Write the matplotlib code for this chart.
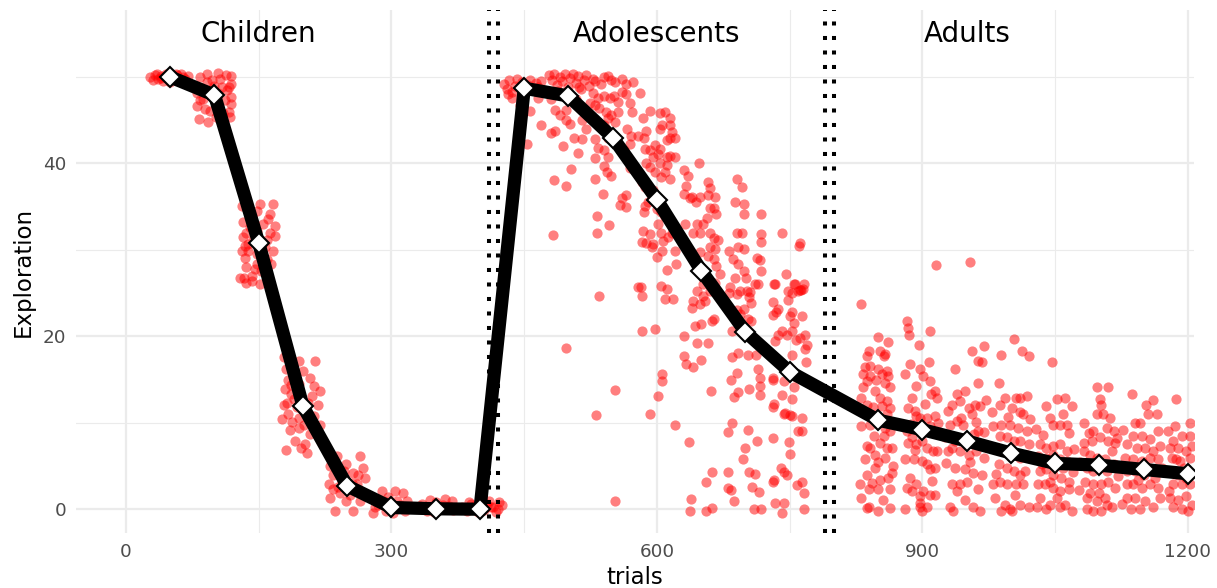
import matplotlib as mpl
mpl.use('Agg')
import matplotlib.pyplot as plt
import numpy as np

mpl.rcParams.update({
    'font.family': 'DejaVu Sans',
    'axes.linewidth': 0.0,
    'xtick.major.size': 0,
    'ytick.major.size': 0,
    'xtick.minor.size': 0,
    'ytick.minor.size': 0,
})

# per-trial exploration scores (trial, score)
children_pts = [
    (27, 50.0), (30, 49.6), (33, 50.2), (36, 49.8), (39, 50.1), (42, 49.5), (45, 50.3), (48, 49.9),
    (52, 50.0), (55, 49.7), (58, 50.2), (61, 49.6), (64, 50.0), (67, 49.8), (70, 50.1), (40, 49.9),
    (57, 50.4), (35, 50.3), (62, 50.4), (50, 49.4), (44, 50.0), (53, 50.2),
    (91, 50.4), (104, 50.5), (113, 50.2), (119, 50.1), (84, 50.0), (82, 45.1), (93, 44.8), (118, 45.4),
    (80, 46.7), (116, 46.0), (95, 46.1), (102, 46.7), (87, 47.5), (119, 47.7), (84, 48.7), (116, 48.8),
    (104, 48.1), (114, 48.5), (119, 49.2), (80, 48.1), (91, 49.4), (100, 49.0), (106, 49.8), (95, 48.5),
    (119, 46.9), (84, 47.3), (89, 46.3), (102, 45.4), (110, 45.8), (112, 47.3), (97, 49.6), (109, 48.9),
    (151, 35.3), (166, 35.3), (131, 35.1), (163, 34.2), (132, 33.2), (155, 33.0), (168, 32.8), (136, 32.0),
    (148, 32.2), (163, 32.0), (168, 31.6), (131, 29.9), (138, 30.7), (157, 30.3), (166, 29.9), (135, 29.1),
    (148, 29.5), (159, 28.9), (136, 28.0), (148, 28.4), (164, 28.4), (133, 26.8), (142, 27.0), (153, 27.6),
    (161, 26.4), (129, 26.8), (136, 26.2), (151, 26.1), (142, 26.4), (132, 31.5), (144, 31.1), (159, 31.1),
    (142, 33.8), (148, 34.5), (138, 29.9), (154, 30.6), (146, 27.8), (140, 32.6), (160, 33.6), (134, 30.4),
    (178, 17.6), (196, 17.1), (214, 17.2), (181, 16.2), (200, 16.0), (183, 15.0), (208, 15.2), (196, 14.5),
    (212, 14.3), (180, 13.9), (187, 13.3), (219, 13.7), (182, 12.3), (193, 11.8), (206, 12.3), (217, 12.1),
    (183, 11.0), (196, 10.6), (212, 10.8), (219, 9.8), (185, 9.2), (196, 9.4), (208, 8.7), (191, 7.9),
    (202, 7.5), (181, 6.8), (204, 6.5), (198, 7.1), (176, 10.4), (190, 12.8), (203, 11.2), (188, 10.1),
    (186, 14.4), (210, 13.1), (178, 12.0), (201, 9.8),
    (238, 6.1), (264, 6.1), (230, 5.0), (249, 5.2), (268, 4.8), (234, 4.0), (257, 4.2), (270, 3.6),
    (229, 2.9), (244, 3.3), (261, 2.9), (230, 1.3), (242, 1.9), (253, 1.7), (266, 2.1), (236, -0.2),
    (257, -0.2), (249, 0.9), (234, 2.3), (264, 0.9), (240, 2.6), (255, 3.0), (246, 4.4), (262, 4.0),
    (289, 2.1), (304, 2.1), (313, 1.9), (281, 0.2), (294, -0.2), (310, 0.5), (317, 0.9), (285, 0.5),
    (298, 0.4), (306, 0.9), (321, 0.2), (279, -0.4), (291, 0.9), (302, -0.4), (315, -0.2), (296, 1.4),
    (330, 0.1), (335, 0.6), (340, -0.2), (345, 0.3), (350, 0.8), (355, 0.0), (360, 1.2), (365, 0.4),
    (370, -0.1), (338, 0.2), (348, -0.3), (358, 0.5), (368, 0.9), (332, 0.4), (363, 0.0), (343, 1.1),
    (380, 0.2), (385, -0.2), (390, 0.6), (395, 0.1), (400, 0.4), (405, -0.1), (410, 1.0), (415, 0.3),
    (420, 0.0), (425, 0.5), (388, 0.8), (398, -0.3), (412, 0.2), (418, -0.3), (403, 0.9), (393, 0.4),
    (408, 0.5), (422, 0.8),
]

adolescent_pts = [
    (427, 49.2), (430, 48.6), (433, 49.6), (436, 48.3), (439, 49.0), (442, 49.8), (445, 48.8), (448, 49.4),
    (451, 48.4), (454, 49.1), (457, 49.7), (460, 48.6), (463, 49.3), (466, 48.9), (469, 49.5), (472, 48.5),
    (456, 46.1), (453, 42.3), (469, 44.4), (436, 47.6), (445, 46.8), (432, 48.0), (465, 47.6),
    (478, 50.2), (481, 49.6), (484, 50.4), (487, 49.1), (490, 50.0), (493, 49.5), (496, 50.3), (499, 48.8),
    (502, 49.9), (505, 50.4), (508, 49.3), (511, 50.1), (514, 48.6), (517, 49.7), (520, 50.2), (523, 49.0),
    (485, 46.2), (497, 46.2), (490, 45.6), (497, 45.0), (502, 44.6), (515, 45.0), (485, 43.8), (480, 43.5),
    (506, 42.9), (515, 42.8), (494, 42.0), (511, 41.2), (503, 39.3), (484, 38.1), (497, 37.4), (482, 31.7),
    (497, 18.7), (520, 44.0), (524, 47.0), (480, 47.5), (509, 47.4), (488, 48.4), (512, 48.9),
    (528, 49.8), (530, 49.5), (540, 50.0), (545, 50.1), (548, 49.6), (553, 49.4), (560, 49.8), (565, 49.2),
    (528, 48.2), (533, 47.6), (540, 47.8), (547, 47.6), (551, 47.8), (560, 48.3), (530, 46.8), (535, 46.4),
    (542, 46.0), (545, 45.2), (548, 45.6), (540, 44.5), (553, 44.8), (545, 43.0), (530, 42.8), (533, 41.8),
    (540, 41.6), (545, 40.8), (530, 40.6), (540, 39.7), (543, 39.0), (548, 38.6), (530, 38.2), (539, 36.5),
    (532, 33.9), (546, 32.9), (532, 32.0), (560, 36.0), (565, 36.3), (558, 35.2), (565, 35.0), (535, 24.7),
    (553, 13.8), (531, 10.9), (553, 0.9), (565, 48.0), (570, 47.0), (572, 46.0), (566, 44.0), (571, 43.2),
    (569, 42.3), (563, 41.5), (570, 39.5), (556, 47.1), (537, 49.2), (556, 45.9), (573, 49.4),
    (581, 48.2), (592, 46.1), (603, 45.8), (609, 46.0), (615, 45.2), (606, 44.4), (615, 44.4), (603, 44.0),
    (617, 43.6), (615, 43.0), (611, 42.7), (620, 42.9), (584, 45.2), (579, 43.2), (585, 43.0), (588, 43.8),
    (586, 41.7), (592, 41.5), (598, 42.1), (603, 41.7), (596, 40.7), (601, 41.1), (611, 40.7), (615, 40.9),
    (620, 40.7), (588, 40.0), (592, 39.6), (603, 40.0), (611, 39.8), (609, 39.0), (598, 39.0), (605, 38.4),
    (615, 38.2), (583, 37.8), (586, 37.3), (596, 36.9), (590, 35.5), (586, 35.1), (600, 34.7), (605, 34.4),
    (603, 35.1), (609, 33.8), (585, 34.4), (601, 33.0), (584, 32.2), (592, 31.8), (604, 32.0), (613, 31.5),
    (617, 32.0), (607, 31.0), (596, 30.7), (594, 30.3), (606, 29.9), (600, 29.2), (611, 27.7), (611, 25.5),
    (583, 30.9), (588, 30.8), (579, 25.7), (620, 29.9), (622, 28.4), (583, 20.6), (598, 20.9), (592, 11.0),
    (601, 13.1), (606, 15.6), (606, 14.8), (620, 9.8), (605, 25.8), (582, 25.7), (583, 24.7), (609, 24.3),
    (618, 24.3),
    (630, 39.2), (635, 38.6), (633, 37.4), (647, 40.1), (639, 36.1), (644, 35.5), (649, 36.1), (658, 37.8),
    (660, 37.2), (658, 36.4), (666, 36.1), (664, 34.8), (667, 34.2), (660, 34.9), (656, 33.7), (652, 33.0),
    (645, 33.0), (649, 32.0), (641, 31.9), (632, 33.0), (660, 32.0), (664, 31.4), (669, 31.1), (666, 30.1),
    (660, 30.3), (649, 29.7), (664, 29.0), (658, 29.3), (667, 28.1), (671, 27.2), (664, 25.3), (652, 26.1),
    (645, 25.3), (637, 36.0), (630, 36.5), (630, 20.0), (633, 16.8), (645, 19.2), (650, 17.3), (661, 13.7),
    (658, 19.2), (636, 7.8), (638, 1.2), (637, -0.2), (655, -0.2), (662, 0.1), (655, 3.2), (662, 4.3),
    (641, 24.1), (639, 23.3), (649, 23.7), (654, 24.1), (652, 24.7), (643, 21.2), (650, 21.4), (662, 21.8),
    (664, 22.0), (630, 17.7), (641, 16.4), (666, 26.2), (660, 25.3),
    (690, 38.2), (696, 37.3), (688, 35.5), (698, 35.3), (698, 34.2), (718, 34.2), (690, 32.0), (696, 32.0),
    (718, 31.8), (718, 30.9), (681, 29.9), (686, 29.0), (692, 28.4), (698, 27.6), (701, 26.8), (688, 26.8),
    (682, 25.7), (694, 25.3), (705, 25.1), (714, 26.0), (716, 28.8), (718, 27.6), (713, 29.1), (698, 30.1),
    (692, 30.3), (680, 4.3), (680, 2.5), (684, 2.2), (687, 1.0), (680, 8.9), (685, 10.0), (697, 5.8),
    (700, 7.1), (703, 9.2), (713, 7.9), (704, 4.3), (711, 4.1), (707, 2.6), (715, 2.0), (710, 0.0),
    (717, 0.0), (684, 15.0), (690, 15.8), (687, 13.0), (691, 13.6), (704, 13.9), (714, 16.2), (716, 15.2),
    (716, 14.2), (716, 13.2), (685, 17.6), (692, 18.1), (703, 17.8), (712, 17.8), (681, 25.0), (690, 24.9),
    (702, 25.3), (704, 24.5), (706, 23.9), (711, 26.0), (690, 23.0), (694, 22.6), (698, 23.2), (703, 22.0),
    (706, 21.8), (685, 20.6),
    (741, 31.9), (762, 30.8), (733, 26.1), (746, 27.2), (756, 26.1), (765, 25.5), (762, 25.4), (748, 25.3),
    (731, 8.2), (740, 4.8), (743, 4.3), (747, 4.0), (731, 3.2), (732, 3.4), (733, 0.7), (743, 0.7),
    (741, -0.4), (749, 7.8), (750, 6.4), (758, 2.8), (764, 3.1), (766, 1.9), (766, 0.0), (759, 9.0),
    (764, 9.0), (764, 10.5), (750, 10.9), (753, 10.8), (743, 11.0), (745, 11.1), (731, 11.8), (732, 12.2),
    (741, 13.2), (752, 12.8), (743, 14.8), (731, 15.0), (731, 15.2), (755, 14.1), (757, 15.3), (768, 17.0),
    (767, 18.5), (767, 20.2), (769, 19.0), (752, 17.8), (762, 19.8), (757, 19.6), (753, 20.6), (747, 20.2),
    (741, 20.6), (737, 20.2), (733, 19.5), (731, 22.5), (735, 22.8), (737, 23.2), (750, 22.3), (752, 22.8),
    (755, 21.6), (764, 22.3), (731, 24.0), (748, 24.2), (752, 25.0), (759, 25.2), (766, 26.0), (763, 25.4),
    (755, 26.0), (732, 26.1), (761, 30.5),
]

adult_pts = [
    (831, 23.7), (839, 18.3), (837, 17.7), (835, 16.4), (833, 15.6), (837, 14.8), (841, 15.4), (833, 14.1),
    (831, 12.9), (837, 12.1), (841, 16.6), (850, 19.9), (852, 18.3), (856, 17.7), (858, 17.9), (861, 19.3),
    (850, 16.2), (854, 15.6), (860, 16.0), (861, 15.4), (858, 14.6), (863, 14.1), (846, 13.7), (852, 12.9),
    (860, 12.5), (854, 11.9), (863, 11.7), (860, 11.0), (831, 9.6), (841, 9.8), (850, 10.2), (858, 9.4),
    (863, 9.0), (837, 7.3), (841, 7.1), (835, 5.8), (846, 6.3), (850, 5.5), (860, 7.1), (865, 7.1),
    (858, 5.9), (867, 5.0), (846, 4.8), (837, 4.0), (852, 3.4), (861, 3.6), (829, 2.9), (839, 2.3),
    (850, 2.3), (863, 2.3), (831, 1.3), (839, 0.3), (850, -0.2), (863, 0.1), (837, 0.1), (845, 8.5),
    (852, 7.7), (856, 8.5), (834, 11.2), (844, 11.8), (848, 14.9), (843, 3.0), (855, 1.1), (866, 4.2),
    (883, 21.8), (884, 21.0), (885, 20.1), (896, 19.0), (908, 20.6), (915, 28.3), (880, 15.6), (886, 16.8),
    (893, 14.3), (897, 16.2), (901, 15.4), (907, 17.0), (909, 14.8), (914, 13.7), (916, 12.9), (910, 13.3),
    (888, 12.9), (884, 11.7), (892, 11.4), (897, 10.6), (893, 10.8), (905, 10.6), (909, 9.6), (914, 10.8),
    (918, 10.0), (882, 9.0), (888, 8.3), (893, 7.5), (884, 7.7), (899, 7.9), (905, 7.1), (912, 6.7),
    (916, 6.7), (892, 6.9), (880, 5.8), (890, 5.8), (899, 5.6), (905, 5.2), (914, 4.8), (909, 4.6),
    (886, 3.6), (893, 2.9), (882, 2.5), (901, 2.1), (909, 1.7), (897, 1.5), (880, 0.0), (897, 0.2),
    (899, -0.2), (905, 0.2), (888, 2.1), (914, 1.7), (897, 0.7), (903, 12.2), (887, 9.9), (911, 3.3),
    (954, 28.6), (937, 16.2), (956, 18.3), (963, 17.2), (969, 18.9), (967, 17.0), (963, 14.6), (933, 12.1),
    (939, 13.3), (948, 13.7), (942, 12.5), (952, 11.7), (959, 12.1), (965, 11.9), (956, 11.0), (931, 9.8),
    (939, 10.2), (946, 9.8), (963, 9.0), (969, 8.9), (950, 8.3), (958, 8.7), (937, 7.9), (929, 6.7),
    (933, 7.1), (942, 6.7), (952, 6.3), (961, 6.7), (969, 5.9), (927, 5.4), (937, 4.8), (948, 4.6),
    (957, 4.2), (967, 4.0), (933, 2.9), (942, 2.9), (950, 3.1), (939, 2.1), (948, 1.1), (957, 0.2),
    (965, -0.2), (935, -0.2), (931, 0.2), (944, 10.6), (960, 10.1), (929, 11.4), (954, 5.5), (963, 2.3),
    (972, 12.6), (926, 8.4),
    (986, 14.6), (989, 17.8), (1003, 19.7), (1013, 18.3), (1020, 17.7), (993, 12.9), (1006, 12.9),
    (1010, 12.9), (1018, 13.1), (988, 12.1), (1001, 11.7), (1010, 11.3), (1014, 11.0), (980, 9.6),
    (989, 9.8), (999, 9.8), (1008, 9.4), (1018, 9.0), (988, 8.5), (995, 8.3), (1003, 7.9), (1010, 7.9),
    (984, 7.1), (993, 6.7), (1001, 6.3), (1010, 5.9), (1018, 6.3), (986, 5.2), (995, 4.8), (1003, 4.4),
    (1010, 4.0), (1016, 4.4), (980, 2.9), (988, 3.2), (995, 2.9), (1006, 2.9), (1014, 2.9), (982, 1.3),
    (993, 0.5), (1001, -0.2), (1010, 0.5), (1020, 0.3), (989, -0.2), (999, 0.0), (978, 11.3), (997, 10.7),
    (1022, 10.4), (983, 4.1), (1004, 1.6), (1020, 7.6),
    (1046, 17.0), (1040, 11.9), (1052, 12.7), (1061, 12.9), (1069, 11.9), (1044, 10.6), (1048, 9.8),
    (1055, 9.8), (1063, 9.8), (1065, 8.8), (1033, 7.5), (1040, 7.1), (1048, 7.3), (1055, 7.5), (1063, 6.7),
    (1040, 5.9), (1048, 6.3), (1055, 5.8), (1063, 5.6), (1033, 4.4), (1040, 4.6), (1048, 4.0), (1057, 3.6),
    (1065, 3.2), (1031, 2.9), (1038, 2.9), (1048, 2.5), (1055, 2.1), (1065, 2.3), (1033, 1.3), (1044, 0.5),
    (1055, 0.2), (1069, -0.2), (1040, 0.0), (1029, 0.2), (1061, 0.5), (1052, 1.3), (1044, 3.2), (1035, 5.2),
    (1059, 4.8), (1028, 9.3), (1036, 8.6), (1071, 7.0), (1070, 4.3), (1030, 6.1), (1059, 11.0),
    (1097, 14.1), (1110, 14.1), (1101, 12.7), (1102, 12.1), (1104, 11.0), (1097, 11.0), (1112, 10.6),
    (1082, 10.0), (1093, 9.0), (1108, 9.4), (1116, 9.0), (1082, 7.7), (1091, 7.9), (1101, 8.3), (1110, 7.9),
    (1118, 7.7), (1082, 6.7), (1089, 6.3), (1097, 5.9), (1106, 5.8), (1114, 6.7), (1086, 4.8), (1093, 4.4),
    (1101, 4.8), (1108, 4.4), (1116, 5.2), (1084, 3.2), (1093, 2.9), (1102, 2.9), (1110, 3.2), (1118, 2.5),
    (1086, 1.3), (1097, 0.9), (1106, 1.3), (1114, 0.2), (1086, 0.0), (1093, -0.2), (1102, -0.2),
    (1108, 0.5), (1089, 1.9), (1099, 1.9), (1078, 5.5), (1121, 3.9), (1120, 8.2), (1088, 8.8), (1077, 2.2),
    (1137, 13.3), (1161, 12.6), (1153, 12.1), (1155, 11.0), (1165, 11.0), (1140, 10.0), (1146, 10.0),
    (1166, 9.0), (1138, 8.5), (1148, 8.5), (1157, 8.1), (1168, 7.3), (1131, 7.5), (1142, 7.1), (1151, 7.1),
    (1161, 6.7), (1129, 5.9), (1138, 5.8), (1148, 5.6), (1157, 5.9), (1166, 5.8), (1131, 4.4), (1140, 4.4),
    (1150, 4.0), (1159, 4.4), (1131, 2.9), (1138, 2.9), (1148, 2.5), (1157, 2.9), (1166, 2.5), (1131, 1.3),
    (1140, 1.3), (1151, 0.9), (1161, 0.2), (1136, 0.0), (1146, 0.0), (1168, 1.3), (1127, 9.2), (1171, 4.8),
    (1144, 3.4), (1163, 3.6), (1126, 0.6),
    (1187, 12.7), (1202, 10.0), (1185, 9.6), (1183, 7.9), (1193, 8.5), (1202, 8.5), (1180, 7.1),
    (1189, 7.1), (1198, 6.7), (1182, 5.9), (1191, 5.6), (1202, 5.9), (1180, 4.4), (1189, 4.0), (1198, 3.6),
    (1183, 2.9), (1193, 2.9), (1202, 2.9), (1180, 1.3), (1189, 1.1), (1198, 1.5), (1183, 0.2), (1193, 0.0),
    (1200, -0.2), (1204, 0.5), (1187, 5.8), (1177, 9.1), (1196, 4.8), (1178, 2.1), (1205, 7.3),
]

# bin means (every 50 trials)
bin_trials = [50, 100, 150, 200, 250, 300, 350, 400,
              450, 500, 550, 600, 650, 700, 750,
              850, 900, 950, 1000, 1050, 1100, 1150, 1200]
bin_means = [50.0, 47.9, 30.8, 11.9, 2.7, 0.2, 0.05, 0.0,
             48.7, 47.8, 43.0, 35.8, 27.6, 20.5, 15.9,
             10.3, 9.2, 7.9, 6.5, 5.3, 5.1, 4.6, 4.1]

stage_names = ['Children', 'Adolescents', 'Adults']
stage_label_x = [150, 600, 950]
stage_label_y = 55
boundaries = [410, 420, 790, 800]


def main() -> None:
    fig = plt.figure(figsize=(12.17, 5.88), dpi=100)
    ax = fig.add_axes([76 / 1217, 55 / 588, 1118 / 1217, 523 / 588])

    ax.set_xlim(-56.5, 1206.8)
    ax.set_ylim(-2.75, 57.75)

    ax.set_xticks([0, 300, 600, 900, 1200])
    ax.set_xticks([150, 450, 750, 1050], minor=True)
    ax.set_yticks([0, 20, 40])
    ax.set_yticks([10, 30, 50], minor=True)
    ax.grid(which='major', color='#ebebeb', lw=1.6, zorder=0)
    ax.grid(which='minor', color='#ebebeb', lw=0.8, zorder=0)
    ax.set_axisbelow(True)
    ax.tick_params(which='both', length=0, labelsize=13.2, labelcolor='#4d4d4d', pad=7)

    for pts in (children_pts, adolescent_pts, adult_pts):
        arr = np.array(pts)
        ax.scatter(arr[:, 0], arr[:, 1], s=54, color='#ff0000', alpha=0.5,
                   linewidths=0, zorder=2)

    for bx in boundaries:
        ax.axvline(bx, color='black', lw=2.9, ls=(0, (1, 2.6)),
                   dash_capstyle='butt', zorder=3)

    ax.plot(bin_trials, bin_means, color='black', lw=9.5, solid_joinstyle='round',
            solid_capstyle='butt', zorder=4)
    ax.plot(bin_trials, bin_means, ls='none', marker='D', ms=10, mfc='white',
            mec='black', mew=1.5, zorder=5)

    for name, lx in zip(stage_names, stage_label_x):
        ax.text(lx, stage_label_y, name, ha='center', va='center', fontsize=20)

    ax.set_xlabel('trials', fontsize=16.5, labelpad=4)
    ax.set_ylabel('Exploration', fontsize=16.5, labelpad=6)

    fig.savefig('out.png', dpi=100)
    plt.close(fig)


if __name__ == '__main__':
    main()
